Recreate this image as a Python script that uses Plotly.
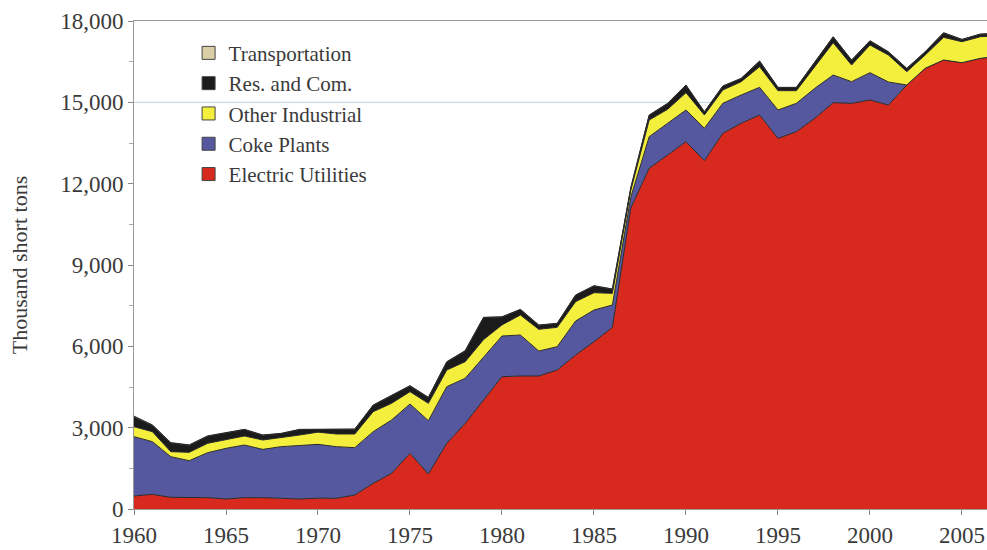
import plotly.graph_objects as go

years = list(range(1960, 2008))

electric_utilities = [480, 541, 430, 430, 418, 369, 418, 418, 381, 369,
                      400, 394, 516, 947, 1316, 2053, 1291, 2423, 3160, 4000,
                      4880, 4906, 4906, 5127, 5680, 6171, 6701, 11100, 12567, 13057,
                      13548, 12848, 13857, 14226, 14533, 13672, 13917, 14410, 14987, 14963,
                      15086, 14901, 15639, 16255, 16561, 16463, 16623, 16700]

coke_plants = [2187, 1942, 1500, 1353, 1659, 1868, 1942, 1782, 1918, 1967,
               1985, 1905, 1746, 1905, 1967, 1820, 1967, 2089, 1660, 1600,
               1500, 1512, 922, 860, 1254, 1169, 823, 400, 1166, 1169,
               1169, 1194, 1106, 1044, 1020, 1045, 1046, 1106, 1021, 799,
               1008, 850, 0, 0, 0, 0, 0, 0]

other_industrial = [369, 369, 184, 307, 345, 333, 333, 345, 332, 393,
                    450, 467, 504, 738, 615, 455, 640, 615, 614, 650,
                    410, 738, 800, 714, 713, 639, 431, 250, 615, 516,
                    639, 491, 492, 492, 762, 713, 467, 799, 1192, 615,
                    1020, 995, 492, 491, 836, 774, 798, 750]

res_and_com = [360, 230, 320, 260, 260, 235, 235, 174, 150, 199,
               100, 174, 174, 236, 297, 211, 211, 297, 396, 810,
               290, 199, 149, 139, 236, 248, 150, 90, 175, 211,
               273, 112, 137, 113, 200, 113, 113, 175, 211, 174,
               149, 112, 114, 112, 162, 76, 89, 90]

transportation = [30, 20, 15, 15, 15, 10, 10, 10, 10, 10,
                  10, 10, 10, 10, 10, 10, 10, 10, 10, 10,
                  10, 10, 10, 10, 10, 10, 10, 10, 10, 10,
                  10, 10, 10, 10, 10, 10, 10, 10, 10, 10,
                  10, 10, 10, 10, 10, 10, 10, 10]

series = [
    ("Electric Utilities", electric_utilities, "#d8291f"),
    ("Coke Plants", coke_plants, "#55589e"),
    ("Other Industrial", other_industrial, "#f4ee3c"),
    ("Res. and Com.", res_and_com, "#1b1b1b"),
    ("Transportation", transportation, "#d9cfa6"),
]

y_ticks = [0, 3000, 6000, 9000, 12000, 15000, 18000]
x_ticks = [1960, 1965, 1970, 1975, 1980, 1985, 1990, 1995, 2000, 2005]

font_family = "Liberation Serif, Times New Roman, serif"
text_color = "#3a3a3a"

fig = go.Figure()
for name, vals, color in series:
    fig.add_trace(go.Scatter(
        x=years, y=vals, name=name, mode="lines",
        stackgroup="one",
        line=dict(color="#2a2a2a", width=1),
        fillcolor=color,
        showlegend=False,
    ))

# legend entries with square swatches
for name, vals, color in series:
    fig.add_trace(go.Scatter(
        x=[None], y=[None], name=name, mode="markers",
        marker=dict(symbol="square", size=13, color=color,
                    line=dict(color="#444", width=1)),
        showlegend=True,
    ))

fig.update_layout(
    width=987, height=550,
    margin=dict(l=134, r=0, t=21, b=41, autoexpand=False),
    paper_bgcolor="white",
    plot_bgcolor="white",
    font=dict(family=font_family, size=20, color=text_color),
    showlegend=True,
    legend=dict(
        x=0.064, y=0.976, xanchor="left", yanchor="top",
        traceorder="reversed",
        bgcolor="rgba(255,255,255,0)",
        font=dict(family=font_family, size=21, color=text_color),
        itemwidth=30,
        tracegroupgap=0,
    ),
    xaxis=dict(
        range=[1960, 2006.36],
        tickmode="array", tickvals=x_ticks,
        ticktext=[str(t) for t in x_ticks],
        ticks="outside", ticklen=5, tickcolor="#888",
        showline=True, linecolor="#999", linewidth=1, mirror=True,
        showgrid=False, zeroline=False, automargin=False,
        tickfont=dict(size=23, family=font_family, color=text_color),
    ),
    yaxis=dict(
        range=[0, 18000],
        tickmode="array", tickvals=y_ticks,
        ticktext=[f"{t:,}" for t in y_ticks],
        ticks="outside", ticklen=5, tickcolor="#888",
        minor=dict(dtick=1500, ticks="outside", ticklen=4, tickcolor="#aaa", showgrid=False),
        showline=True, linecolor="#999", linewidth=1,
        showgrid=False, zeroline=False, automargin=False,
        tickfont=dict(size=23, family=font_family, color=text_color),
        title=dict(text="Thousand short tons", standoff=26,
                   font=dict(size=22, family=font_family, color=text_color)),
    ),
    shapes=[dict(type="line", xref="paper", x0=0, x1=1, yref="y", y0=15000, y1=15000,
                 line=dict(color="#b5d6de", width=1), layer="below")],
)

fig.write_html(
    "out.html",
    config={"displayModeBar": False},
    post_script="document.body.style.margin='0';document.body.style.overflow='hidden';",
)
